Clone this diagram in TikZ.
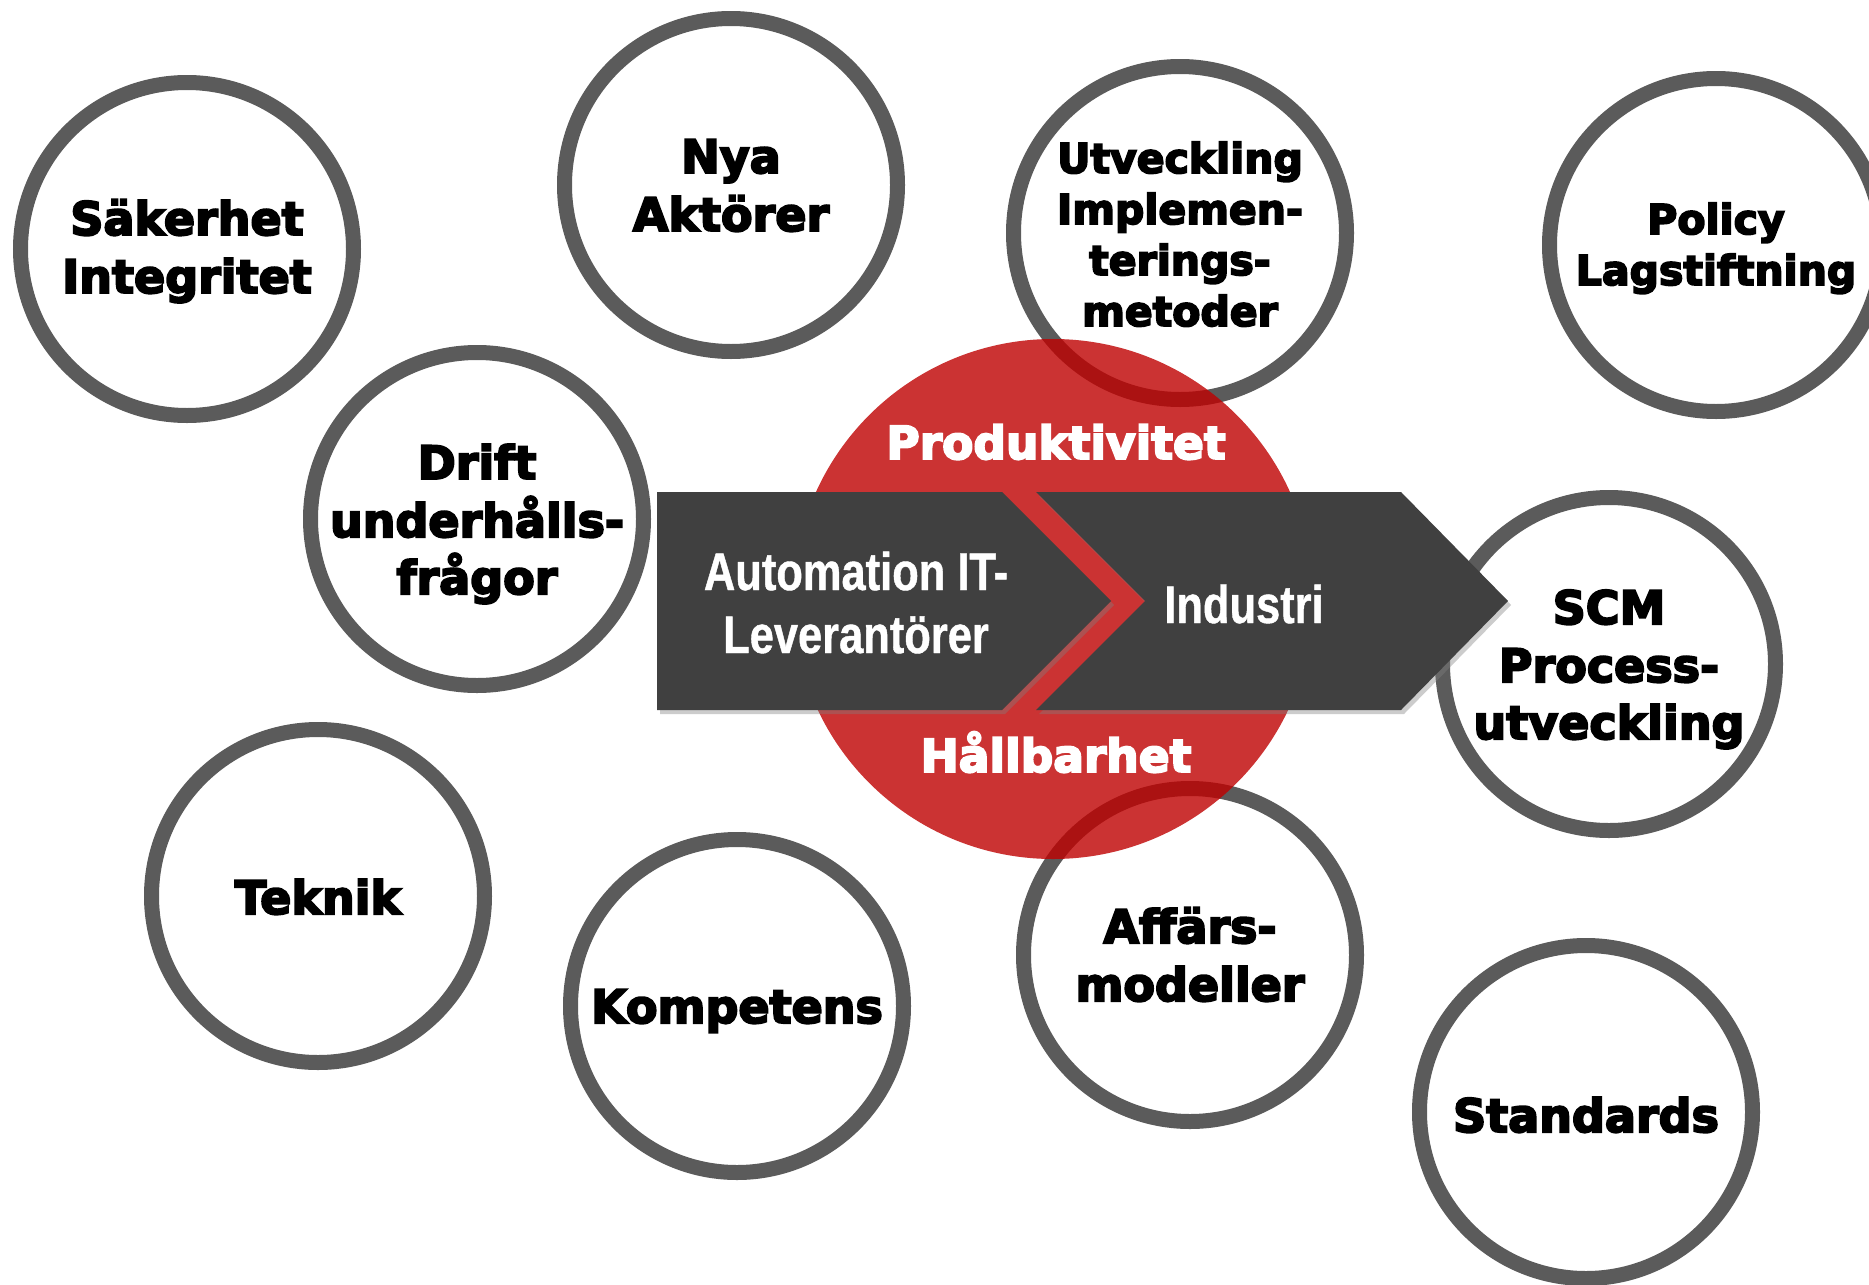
\documentclass[tikz,border=0pt]{standalone}
\usepackage{fontspec}
\usetikzlibrary{shadows}
\newfontfamily\heavyfont[FakeBold=4.3]{DejaVu Sans Bold}
\newfontfamily\narrowfont[FakeStretch=0.82, FakeBold=0.8]{Liberation Sans Bold}
\definecolor{ringgray}{HTML}{5B5B5B}
\definecolor{arrowgray}{HTML}{404040}
\definecolor{hotred}{RGB}{191,0,0}
\tikzset{
  ring/.style={circle, draw=ringgray, line width=15pt, minimum size=333pt, inner sep=0pt, fill=white},
  bigtxt/.style={font=\heavyfont\fontsize{46}{58}\selectfont, anchor=base, inner sep=0pt},
  midtxt/.style={font=\heavyfont\fontsize{41}{51}\selectfont, anchor=base, inner sep=0pt},
  redtxt/.style={font=\heavyfont\fontsize{45.5}{55}\selectfont, text=white, anchor=base, inner sep=0pt},
  chevtxt/.style={font=\narrowfont\fontsize{53}{63}\selectfont, text=white, anchor=base, inner sep=0pt},
  chevron/.style={fill=arrowgray, drop shadow={shadow xshift=3pt, shadow yshift=-4pt, opacity=0.4}},
}
\begin{document}
\begin{tikzpicture}[x=1pt, y=-1pt]
\useasboundingbox (0,0) rectangle (1869,1285);
\fill[white] (0,0) rectangle (1869,1285);
% rings
\node[ring] (c1) at (187,249) {};
\node[ring] (c2) at (731,185) {};
\node[ring] (c3) at (1180,233) {};
\node[ring] (c4) at (1716,245) {};
\node[ring] (c5) at (477,519) {};
\node[ring] (c6) at (1609,664) {};
\node[ring] (c7) at (318,896) {};
\node[ring] (c8) at (737,1006) {};
\node[ring] (c9) at (1190,955) {};
\node[ring] (c10) at (1586,1112) {};
% red disc
\fill[hotred, fill opacity=0.8] (1053,599) circle[radius=260pt];
% chevrons
\path[chevron] (657,492) -- (1002,492) -- (1111,601) -- (1002,710) -- (657,710) -- cycle;
\path[chevron] (1036,492) -- (1401,492) -- (1508,601) -- (1401,710) -- (1036,710) -- (1145,601) -- cycle;
% chevron texts
\node[chevtxt] (a1) at (856,590) {Automation IT-};
\node[chevtxt] (a2) at (856,653) {Leverantörer};
\node[chevtxt] (a3) at (1244,623) {Industri};
\node[redtxt] (r1) at (1056,459) {Produktivitet};
\node[redtxt] (r2) at (1056,772) {Hållbarhet};
% circle texts
\node[bigtxt] (t1a) at (187,235) {Säkerhet};
\node[bigtxt] (t1b) at (187,293) {Integritet};
\node[bigtxt] (t2a) at (731,173) {Nya};
\node[bigtxt] (t2b) at (731,231) {Aktörer};
\node[midtxt] (t3a) at (1180,173) {Utveckling};
\node[midtxt] (t3b) at (1180,224) {Implemen-};
\node[midtxt] (t3c) at (1180,275) {terings-};
\node[midtxt] (t3d) at (1180,326) {metoder};
\node[midtxt] (t4a) at (1716,234) {Policy};
\node[midtxt] (t4b) at (1716,285) {Lagstiftning};
\node[bigtxt] (t5a) at (477,479) {Drift};
\node[bigtxt] (t5b) at (477,537) {underhålls-};
\node[bigtxt] (t5c) at (477,594) {frågor};
\node[bigtxt] (t6a) at (1609,624) {SCM};
\node[bigtxt] (t6b) at (1609,682) {Process-};
\node[bigtxt] (t6c) at (1609,739) {utveckling};
\node[bigtxt] (t7) at (318,914) {Teknik};
\node[bigtxt] (t8) at (737,1023) {Kompetens};
\node[bigtxt] (t9a) at (1190,943) {Affärs-};
\node[bigtxt] (t9b) at (1190,1001) {modeller};
\node[bigtxt] (t10) at (1586,1132) {Standards};
\end{tikzpicture}
\end{document}
